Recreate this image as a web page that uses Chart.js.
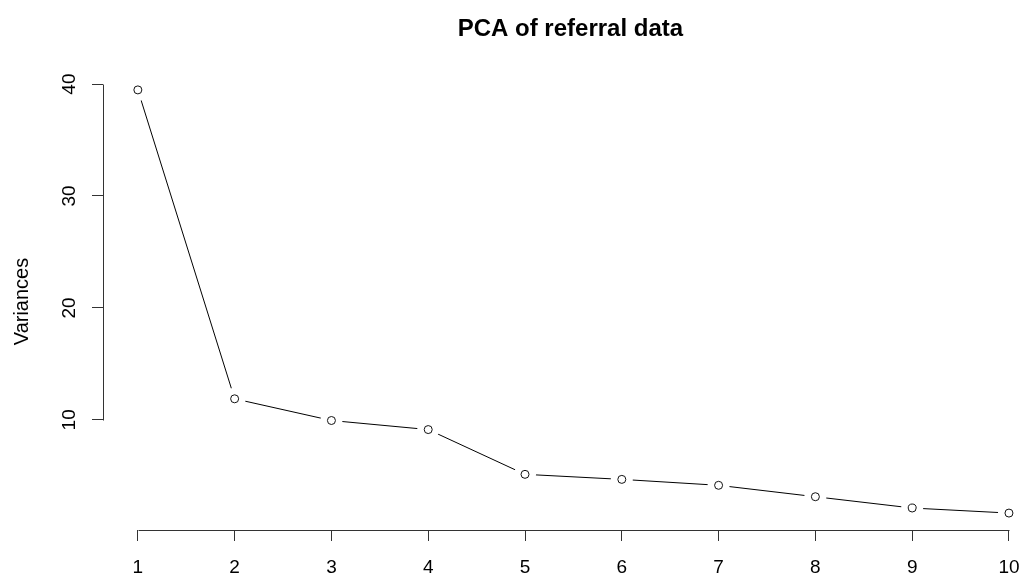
<!DOCTYPE html>
<html>
<head>
<meta charset="utf-8">
<script src="https://cdn.jsdelivr.net/npm/chart.js@4/dist/chart.umd.min.js"></script>
<style>
  html, body { margin: 0; padding: 0; background: #fff; overflow: hidden; }
  #wrap { width: 1023px; height: 576px; position: relative; }
  #scree { display: block; }
</style>
</head>
<body>
<div id="wrap"><canvas id="scree" width="1023" height="576"></canvas></div>
<script>
// Scree plot: variance of each principal component
const components = [1, 2, 3, 4, 5, 6, 7, 8, 9, 10];
const variances = [39.48, 11.88, 9.94, 9.13, 5.13, 4.68, 4.15, 3.13, 2.12, 1.67];
const yTickValues = [10, 20, 30, 40];
const xTickLabels = ['1', '2', '3', '4', '5', '6', '7', '8', '9', '10'];
const chartTitle = 'PCA of referral data';
const yAxisTitle = 'Variances';

const points = components.map((c, i) => ({ x: c, y: variances[i] }));
const FONT = '"Liberation Sans", Arial, sans-serif';
const AXIS_COLOR = '#333';

// Axis lines, tick labels and titles in base-graphics style
const baseAxes = {
  id: 'baseAxes',
  afterDraw(chart) {
    const { ctx, chartArea, scales: { x, y } } = chart;
    ctx.save();
    ctx.strokeStyle = AXIS_COLOR;
    ctx.lineWidth = 1;

    // x axis line spans first to last tick
    const xb = Math.round(chartArea.bottom) + 0.5;
    ctx.beginPath();
    ctx.moveTo(Math.round(x.getPixelForValue(components[0])) + 0.5, xb);
    ctx.lineTo(Math.round(x.getPixelForValue(components[components.length - 1])) + 0.5, xb);
    ctx.stroke();

    // y axis line spans first to last tick
    const yl = Math.round(chartArea.left) + 0.5;
    ctx.beginPath();
    ctx.moveTo(yl, Math.round(y.getPixelForValue(yTickValues[0])) + 0.5);
    ctx.lineTo(yl, Math.round(y.getPixelForValue(yTickValues[yTickValues.length - 1])) + 0.5);
    ctx.stroke();

    ctx.fillStyle = '#000';

    // x tick labels
    ctx.font = '19px ' + FONT;
    ctx.textAlign = 'center';
    ctx.textBaseline = 'alphabetic';
    components.forEach((c, i) => {
      ctx.fillText(xTickLabels[i], x.getPixelForValue(c), chartArea.bottom + 42.5);
    });

    // y tick labels, rotated to read upwards
    yTickValues.forEach(v => {
      ctx.save();
      ctx.translate(chartArea.left - 28, y.getPixelForValue(v));
      ctx.rotate(-Math.PI / 2);
      ctx.fillText(String(v), 0, 0);
      ctx.restore();
    });

    // y axis title
    ctx.save();
    ctx.font = '20px ' + FONT;
    ctx.translate(28, (chartArea.top + chartArea.bottom) / 2);
    ctx.rotate(-Math.PI / 2);
    ctx.fillText(yAxisTitle, 0, 0);
    ctx.restore();

    // main title
    ctx.font = 'bold 24px ' + FONT;
    ctx.fillText(chartTitle, (x.getPixelForValue(components[0]) + x.getPixelForValue(components[components.length - 1])) / 2 - 3, 35.5);

    ctx.restore();
  }
};

new Chart(document.getElementById('scree'), {
  type: 'line',
  data: {
    datasets: [
      {
        // hollow point markers
        data: points,
        showLine: false,
        pointRadius: 4,
        pointHoverRadius: 4,
        pointBackgroundColor: '#fff',
        pointBorderColor: '#111',
        pointBorderWidth: 1,
        order: 1
      },
      {
        // white halo leaves a gap between the line and each marker
        data: points,
        showLine: false,
        pointRadius: 11,
        pointHoverRadius: 11,
        pointBackgroundColor: '#fff',
        pointBorderWidth: 0,
        order: 2
      },
      {
        data: points,
        borderColor: '#000',
        borderWidth: 1,
        pointRadius: 0,
        tension: 0,
        order: 3
      }
    ]
  },
  options: {
    responsive: false,
    animation: false,
    events: [],
    devicePixelRatio: 1,
    layout: { autoPadding: false, padding: { top: 73, left: 0, right: 0, bottom: 0 } },
    plugins: { legend: { display: false }, title: { display: false }, tooltip: { enabled: false } },
    scales: {
      x: {
        type: 'linear',
        min: 0.64,
        max: 10.145,
        afterBuildTicks: s => { s.ticks = components.map(v => ({ value: v })); },
        afterFit: s => { s.height = 46; },
        ticks: { display: false },
        border: { display: false },
        grid: { drawOnChartArea: false, drawTicks: true, tickLength: 11, color: AXIS_COLOR, lineWidth: 1 }
      },
      y: {
        type: 'linear',
        min: 0.157,
        max: 40.99,
        afterBuildTicks: s => { s.ticks = yTickValues.map(v => ({ value: v })); },
        afterFit: s => { s.width = 103; },
        ticks: { display: false },
        border: { display: false },
        grid: { drawOnChartArea: false, drawTicks: true, tickLength: 11, color: AXIS_COLOR, lineWidth: 1 }
      }
    }
  },
  plugins: [baseAxes]
});
</script>
</body>
</html>
